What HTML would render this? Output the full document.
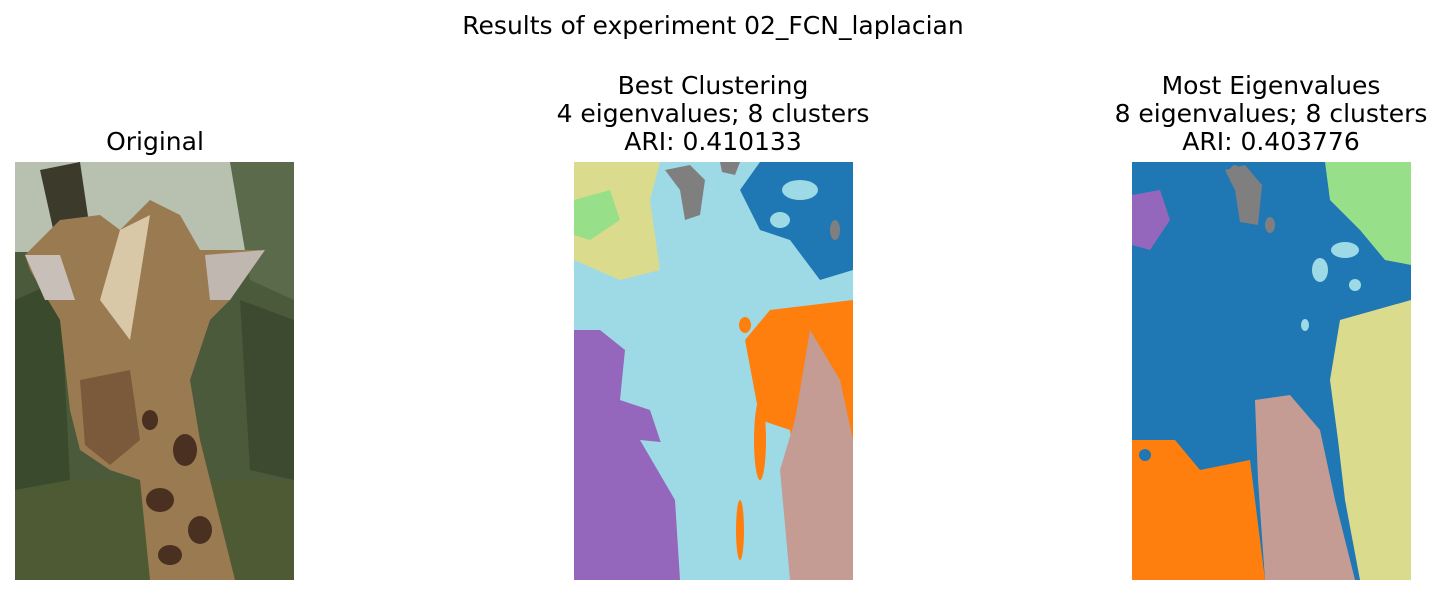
<!DOCTYPE html>
<html><head><meta charset="utf-8">
<style>
body{margin:0;background:#fff;}
svg{display:block;font-family:"DejaVu Sans","Liberation Sans",sans-serif;}
</style></head>
<body>
<svg width="1443" height="595" viewBox="0 0 1443 595">
<text x="713" y="34" font-size="25" text-anchor="middle">Results of experiment 02_FCN_laplacian</text>

<text x="155" y="150" font-size="25" text-anchor="middle">Original</text>
<g font-size="25" text-anchor="middle">
<text x="713" y="94">Best Clustering</text>
<text x="713" y="122">4 eigenvalues; 8 clusters</text>
<text x="713" y="150">ARI: 0.410133</text>
</g>
<g font-size="25" text-anchor="middle">
<text x="1271" y="94">Most Eigenvalues</text>
<text x="1271" y="122">8 eigenvalues; 8 clusters</text>
<text x="1271" y="150">ARI: 0.403776</text>
</g>

<g>
<clipPath id="c1"><rect x="15" y="162" width="279" height="418"/></clipPath>
<g clip-path="url(#c1)">
<rect x="15" y="162" width="279" height="418" fill="#4a5a3a"/>
<rect x="15" y="162" width="279" height="90" fill="#b8c0b0"/>
<rect x="15" y="480" width="279" height="100" fill="#4e5a34"/>
<path d="M40 170 L80 162 L90 230 L60 260 Z" fill="#3c3a2a"/>
<path d="M230 162 L294 162 L294 300 L250 280 Z" fill="#5a6a4a"/>
<path d="M15 300 L60 280 L70 480 L15 490 Z" fill="#3a4a2c"/>
<path d="M240 300 L294 320 L294 480 L250 470 Z" fill="#3d4a30"/>
<path d="M60 220 L100 215 L120 230 L150 200 L180 215 L200 250 L260 250 L230 300 L210 320 L190 380 L200 440 L235 580 L150 580 L140 480 L110 470 L80 450 L70 410 L60 320 L30 270 L25 255 Z" fill="#9a7a50"/>
<path d="M80 380 L130 370 L140 440 L110 465 L85 445 Z" fill="#7a5a3a"/>
<path d="M25 255 L60 255 L75 300 L45 300 Z" fill="#c8c0b8"/>
<path d="M205 255 L265 250 L230 300 L210 300 Z" fill="#c0b8b0"/>
<path d="M120 230 L150 215 L130 340 L100 300 Z" fill="#d8c8a8"/>
<g fill="#4a3020"><ellipse cx="185" cy="450" rx="12" ry="16"/><ellipse cx="160" cy="500" rx="14" ry="12"/><ellipse cx="200" cy="530" rx="12" ry="14"/><ellipse cx="170" cy="555" rx="12" ry="10"/><ellipse cx="150" cy="420" rx="8" ry="10"/></g>
</g>
</g>

<g>
<clipPath id="c2"><rect x="574" y="162" width="279" height="418"/></clipPath>
<g clip-path="url(#c2)">
<rect x="574" y="162" width="279" height="418" fill="#9edae5"/>
<path d="M574 162 L660 162 L650 200 L660 270 L620 280 L574 260 Z" fill="#dbdb8d"/>
<path d="M574 200 L610 190 L620 220 L590 240 L574 235 Z" fill="#98df8a"/>
<path d="M760 162 L853 162 L853 270 L820 280 L790 240 L760 230 L740 190 Z" fill="#1f77b4"/>
<g fill="#7f7f7f"><path d="M665 170 L690 165 L705 180 L700 215 L685 220 L680 190 Z"/><path d="M720 162 L740 162 L735 175 L722 172 Z"/><ellipse cx="835" cy="230" rx="5" ry="10"/></g>
<g fill="#9edae5"><ellipse cx="800" cy="190" rx="18" ry="10"/><ellipse cx="780" cy="220" rx="10" ry="8"/></g>
<path d="M770 310 L853 300 L853 500 L800 520 L790 430 L760 420 L745 340 Z" fill="#ff7f0e"/>
<path d="M810 330 L840 380 L853 440 L853 580 L790 580 L780 470 L795 420 Z" fill="#c49c94"/>
<path d="M574 330 L600 330 L625 350 L620 400 L650 410 L660 440 L680 500 L680 580 L574 580 Z" fill="#9467bd"/>
<path d="M640 440 L690 445 L700 500 L690 580 L680 580 L675 500 Z" fill="#9edae5"/>
<g fill="#ff7f0e"><ellipse cx="745" cy="325" rx="6" ry="8"/><ellipse cx="760" cy="440" rx="6" ry="40"/><ellipse cx="740" cy="530" rx="4" ry="30"/></g>
</g>
</g>

<g>
<clipPath id="c3"><rect x="1132" y="162" width="279" height="418"/></clipPath>
<g clip-path="url(#c3)">
<rect x="1132" y="162" width="279" height="418" fill="#1f77b4"/>
<path d="M1132 195 L1160 190 L1170 220 L1150 250 L1132 245 Z" fill="#9467bd"/>
<g fill="#7f7f7f"><path d="M1225 170 L1245 165 L1262 185 L1258 225 L1240 222 L1235 190 Z"/><ellipse cx="1235" cy="175" rx="6" ry="10"/><ellipse cx="1270" cy="225" rx="5" ry="8"/></g>
<path d="M1325 162 L1411 162 L1411 265 L1385 260 L1360 230 L1330 200 Z" fill="#98df8a"/>
<g fill="#9edae5"><ellipse cx="1345" cy="250" rx="14" ry="8"/><ellipse cx="1320" cy="270" rx="8" ry="12"/><ellipse cx="1355" cy="285" rx="6" ry="6"/><ellipse cx="1305" cy="325" rx="4" ry="6"/></g>
<path d="M1340 320 L1411 300 L1411 580 L1360 580 L1345 500 L1338 440 L1330 380 Z" fill="#dbdb8d"/>
<path d="M1255 400 L1290 395 L1320 430 L1335 500 L1355 580 L1265 580 L1258 480 Z" fill="#c49c94"/>
<path d="M1132 440 L1175 440 L1200 470 L1250 460 L1255 500 L1265 580 L1132 580 Z" fill="#ff7f0e"/>
<ellipse cx="1145" cy="455" rx="6" ry="6" fill="#1f77b4"/>
</g>
</g>
</svg>
</body></html>
